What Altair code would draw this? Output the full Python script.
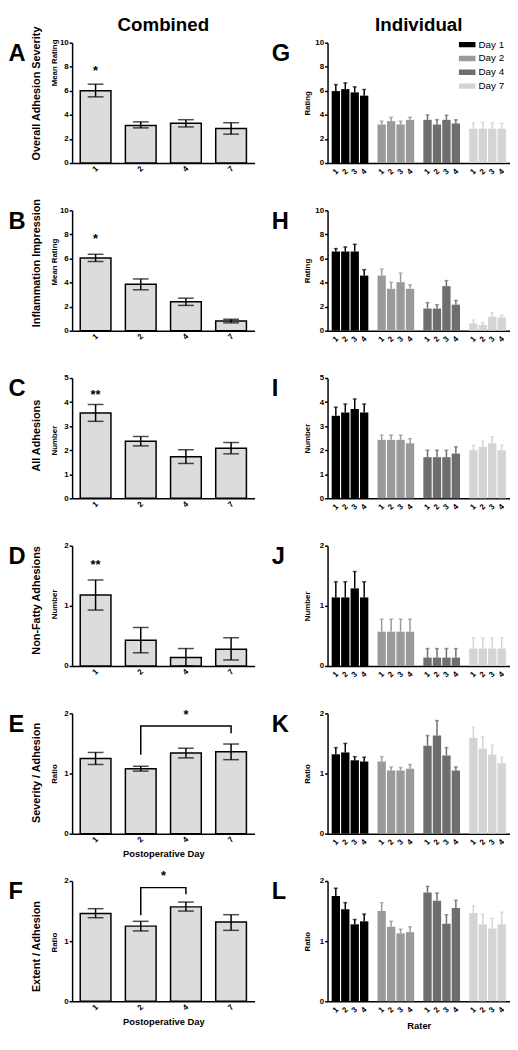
import altair as alt
import pandas as pd

FONT = "Liberation Sans"
W, H = 185, 122

DAYS = ["1", "2", "4", "7"]
RATERS = ["1", "2", "3", "4"]
DAY_COLORS = ["#000000", "#9a9a9a", "#6e6e6e", "#d4d4d4"]

# ---------------- Combined (mean, lower, upper) ----------------
A_mean = [6.0, 3.12, 3.3, 2.87]
A_lo = [5.5, 2.92, 3.0, 2.4]
A_hi = [6.55, 3.42, 3.6, 3.35]

B_mean = [6.05, 3.85, 2.4, 0.8]
B_lo = [5.75, 3.4, 2.1, 0.65]
B_hi = [6.35, 4.3, 2.7, 0.95]

C_mean = [3.55, 2.37, 1.73, 2.08]
C_lo = [3.2, 2.18, 1.45, 1.85]
C_hi = [3.9, 2.57, 2.02, 2.32]

D_mean = [1.18, 0.43, 0.14, 0.28]
D_lo = [0.93, 0.22, 0.0, 0.1]
D_hi = [1.43, 0.64, 0.29, 0.47]

E_mean = [1.25, 1.08, 1.34, 1.36]
E_lo = [1.15, 1.04, 1.26, 1.23]
E_hi = [1.35, 1.12, 1.42, 1.49]

F_mean = [1.46, 1.25, 1.57, 1.32]
F_lo = [1.39, 1.17, 1.5, 1.18]
F_hi = [1.54, 1.33, 1.65, 1.44]

# significance annotations
A_star_day, A_star_y, A_star = ["1"], [7.9], ["*"]
B_star_day, B_star_y, B_star = ["1"], [7.9], ["*"]
C_star_day, C_star_y, C_star = ["1"], [4.43], ["**"]
D_star_day, D_star_y, D_star = ["1"], [1.72], ["**"]
E_star_day, E_star_y, E_star = ["4"], [2.02], ["*"]
F_star_day, F_star_y, F_star = ["2"], [2.13], ["*"]
E_br_day = ["2", "2", "7", "7"]
E_br_y = [1.31, 1.79, 1.79, 1.67]
F_br_day = ["2", "2", "4", "4"]
F_br_y = [1.43, 1.89, 1.89, 1.78]

# ---------------- Individual (rater 1-4 within each day) ----------------
G_mean = [5.98, 6.14, 5.87, 5.6, 3.2, 3.48, 3.2, 3.59, 3.59, 3.2, 3.59, 3.29, 2.85, 2.85, 2.85, 2.85]
G_hi = [6.52, 6.66, 6.33, 6.11, 3.48, 3.8, 3.48, 3.8, 4.0, 3.6, 3.97, 3.59, 3.34, 3.4, 3.34, 3.3]

H_mean = [6.58, 6.58, 6.58, 4.58, 4.58, 3.48, 4.03, 3.48, 1.84, 1.84, 3.7, 2.16, 0.6, 0.47, 1.15, 1.1]
H_hi = [6.82, 6.96, 7.18, 5.07, 5.12, 4.03, 4.79, 3.81, 2.33, 2.16, 4.16, 2.52, 0.88, 0.68, 1.5, 1.29]

I_mean = [3.43, 3.57, 3.71, 3.57, 2.43, 2.43, 2.43, 2.29, 1.71, 1.71, 1.71, 1.86, 2.0, 2.14, 2.29, 2.0]
I_hi = [3.79, 3.92, 4.13, 3.92, 2.63, 2.63, 2.63, 2.48, 2.0, 2.0, 2.0, 2.14, 2.21, 2.38, 2.56, 2.21]

J_mean = [1.14, 1.14, 1.29, 1.14, 0.57, 0.57, 0.57, 0.57, 0.14, 0.14, 0.14, 0.14, 0.29, 0.29, 0.29, 0.29]
J_hi = [1.4, 1.4, 1.57, 1.4, 0.78, 0.78, 0.78, 0.78, 0.29, 0.29, 0.29, 0.29, 0.47, 0.47, 0.47, 0.47]

K_mean = [1.32, 1.35, 1.22, 1.2, 1.2, 1.05, 1.05, 1.08, 1.46, 1.63, 1.3, 1.05, 1.59, 1.41, 1.31, 1.17]
K_hi = [1.43, 1.5, 1.28, 1.27, 1.28, 1.11, 1.1, 1.15, 1.63, 1.88, 1.43, 1.11, 1.77, 1.61, 1.47, 1.27]

L_mean = [1.75, 1.53, 1.28, 1.33, 1.5, 1.24, 1.13, 1.15, 1.81, 1.67, 1.29, 1.55, 1.47, 1.28, 1.21, 1.28]
L_hi = [1.88, 1.64, 1.36, 1.45, 1.64, 1.33, 1.2, 1.24, 1.91, 1.8, 1.44, 1.68, 1.59, 1.45, 1.38, 1.48]

TICKS10 = [0, 2, 4, 6, 8, 10]
TICKS5 = [0, 1, 2, 3, 4, 5]
TICKS2 = [0, 1, 2]


def hidden_axis(title, **kw):
    return alt.Axis(title=title, orient="left", labels=False, ticks=False, domain=False,
                    grid=False, **kw)


def letter_axis(letter, x):
    return hidden_axis(letter, titleX=x, titleY=18, titleAngle=0, titleAlign="left",
                       titleBaseline="alphabetic", titleFontSize=24, titleFontWeight="bold")


def value_axis(unit, ticks, tx, ty):
    return alt.Axis(title=unit, values=ticks, labelExpr="'' + datum.value", orient="left",
                    titleX=tx, titleY=ty, titleAngle=270, titleAlign="center",
                    titleBaseline="alphabetic", titleFontSize=8, titleFontWeight="bold",
                    labelFontSize=8, labelFontWeight="bold", tickSize=3, labelPadding=1,
                    labelOverlap=False, grid=False)


def top_title(text, offset):
    return alt.TitleParams(text, fontSize=19, fontWeight="bold", anchor="middle",
                           frame="group", offset=offset, color="black")


def combined_panel(letter, name, unit, mean, lo, hi, ymax, ticks, name_y, unit_y,
                   star_day, star_y, star_txt, star_dx=0, title=None, xtitle=None,
                   br_day=None, br_y=None):
    df = pd.DataFrame({"day": DAYS, "mean": mean, "lo": lo, "hi": hi})
    ysc = alt.Scale(domain=[0, ymax], nice=False)
    xkw = dict(labelAngle=315, labelAlign="center", labelBaseline="middle", labelPadding=6,
               ticks=False, labelFontSize=8, labelFontWeight="bold")
    if xtitle:
        xkw.update(title=xtitle, titleFontSize=9.5, titleFontWeight="bold", titlePadding=5)
    else:
        xkw.update(title=None)
    x = alt.X("day:N", sort=DAYS, scale=alt.Scale(paddingInner=0.32, paddingOuter=0.18),
              axis=alt.Axis(**xkw))
    name_axis = hidden_axis(name, titleX=-33, titleY=name_y, titleAngle=270, titleAlign="center",
                            titleBaseline="alphabetic", titleFontSize=11, titleFontWeight="bold")
    base = alt.Chart(df)
    bars = base.mark_bar(color="#dcdcdc", stroke="black", strokeWidth=1.5).encode(
        x=x, y=alt.Y("mean:Q", scale=ysc, axis=value_axis(unit, ticks, -16, unit_y)))
    err = base.mark_rule(color="black", strokeWidth=1.5).encode(
        x=x, y=alt.Y("lo:Q", scale=ysc, axis=name_axis), y2="hi:Q")
    cap_hi = base.mark_tick(color="black", thickness=1.5, size=16).encode(
        x=x, y=alt.Y("hi:Q", scale=ysc, axis=letter_axis(letter, -65)))
    cap_lo = base.mark_tick(color="black", thickness=1.5, size=16).encode(
        x=x, y=alt.Y("lo:Q", scale=ysc, axis=None))
    sdf = pd.DataFrame({"day": star_day, "y": star_y, "t": star_txt})
    stars = alt.Chart(sdf).mark_text(fontSize=13, fontWeight="bold", color="black",
                                     baseline="middle", dx=star_dx, dy=3).encode(
        x=x, y=alt.Y("y:Q", scale=ysc, axis=None), text="t:N")
    layers = [bars, err, cap_hi, cap_lo, stars]
    if br_day:
        bdf = pd.DataFrame({"day": br_day, "y": br_y, "o": list(range(len(br_day)))})
        layers.append(alt.Chart(bdf).mark_line(color="black", strokeWidth=1.5).encode(
            x=x, y=alt.Y("y:Q", scale=ysc, axis=None), order="o:Q"))
    props = dict(width=W, height=H)
    if title:
        props["title"] = title
    return alt.layer(*layers).resolve_axis(y="independent").properties(**props)


def individual_panel(letter, unit, mean, hi, ymax, ticks, title=None, legend=False,
                     xtitle=None):
    df = pd.DataFrame({"day": [d for d in DAYS for _ in RATERS], "rater": RATERS * 4,
                       "mean": mean, "hi": hi})
    ysc = alt.Scale(domain=[0, ymax], nice=False)
    xkw = dict(labels=False, ticks=False)
    if xtitle:
        xkw.update(title=xtitle, titleFontSize=9.5, titleFontWeight="bold", titlePadding=20)
    else:
        xkw.update(title=None)
    x = alt.X("day:N", sort=DAYS, scale=alt.Scale(paddingInner=0.2, paddingOuter=0.09),
              axis=alt.Axis(**xkw))
    xo = alt.XOffset("rater:N", sort=RATERS, scale=alt.Scale(paddingInner=0.12, paddingOuter=0))
    if legend:
        leg = alt.Legend(orient="none", legendX=133, legendY=-5, title=None,
                         symbolType="M-1,-0.32H1V0.32H-1Z", symbolSize=289,
                         symbolStrokeWidth=0, symbolOpacity=1, labelFontSize=10,
                         labelExpr="'Day ' + datum.label", clipHeight=14, rowPadding=0,
                         labelOffset=3, padding=0, labelColor="black")
    else:
        leg = None
    csc = alt.Scale(domain=DAYS, range=DAY_COLORS)
    base = alt.Chart(df)
    bars = base.mark_bar().encode(
        x=x, xOffset=xo, y=alt.Y("mean:Q", scale=ysc, axis=value_axis(unit, ticks, -18, 61)),
        color=alt.Color("day:N", sort=DAYS, scale=csc, legend=leg))
    err = base.mark_rule(strokeWidth=1.5).encode(
        x=x, xOffset=xo, y=alt.Y("mean:Q", scale=ysc, axis=letter_axis(letter, -57)),
        y2="hi:Q", color=alt.Color("day:N", sort=DAYS, scale=csc, legend=None))
    cap = base.mark_tick(thickness=1.5, size=4).encode(
        x=x, xOffset=xo, y=alt.Y("hi:Q", scale=ysc, axis=None),
        color=alt.Color("day:N", sort=DAYS, scale=csc, legend=None))
    labels = base.mark_text(angle=315, fontSize=8, fontWeight="bold", align="center",
                            baseline="middle", dx=-6.4, dy=6.4, color="black").encode(
        x=x, xOffset=xo, y=alt.YDatum(0, scale=ysc, axis=None), text="rater:N")
    props = dict(width=W, height=H)
    if title:
        props["title"] = title
    return alt.layer(bars, err, cap, labels).resolve_axis(y="independent").properties(**props)


pA = combined_panel("A", "Overall Adhesion Severity", "Mean Rating", A_mean, A_lo, A_hi, 10,
                    TICKS10, 51, 20, A_star_day, A_star_y, A_star,
                    title=top_title("Combined", -9))
pB = combined_panel("B", "Inflammation Impression", "Mean Rating", B_mean, B_lo, B_hi, 10,
                    TICKS10, 53, 52, B_star_day, B_star_y, B_star)
pC = combined_panel("C", "All Adhesions", "Number", C_mean, C_lo, C_hi, 5, TICKS5, 58, 63,
                    C_star_day, C_star_y, C_star)
pD = combined_panel("D", "Non-Fatty Adhesions", "Number", D_mean, D_lo, D_hi, 2, TICKS2, 55, 59,
                    D_star_day, D_star_y, D_star)
pE = combined_panel("E", "Severity / Adhesion", "Ratio", E_mean, E_lo, E_hi, 2, TICKS2, 60, 61,
                    E_star_day, E_star_y, E_star, xtitle="Postoperative Day",
                    br_day=E_br_day, br_y=E_br_y)
pF = combined_panel("F", "Extent / Adhesion", "Ratio", F_mean, F_lo, F_hi, 2, TICKS2, 66, 62,
                    F_star_day, F_star_y, F_star, star_dx=23, xtitle="Postoperative Day",
                    br_day=F_br_day, br_y=F_br_y)

pG = individual_panel("G", "Rating", G_mean, G_hi, 10, TICKS10,
                      title=top_title("Individual", 3), legend=True)
pH = individual_panel("H", "Rating", H_mean, H_hi, 10, TICKS10)
pI = individual_panel("I", "Number", I_mean, I_hi, 5, TICKS5)
pJ = individual_panel("J", "Number", J_mean, J_hi, 2, TICKS2)
pK = individual_panel("K", "Ratio", K_mean, K_hi, 2, TICKS2)
pL = individual_panel("L", "Ratio", L_mean, L_hi, 2, TICKS2, xtitle="Rater")

chart = alt.concat(
    pA, pG, pB, pH, pC, pI, pD, pJ, pE, pK, pF, pL,
    columns=2, spacing={"row": 48, "column": 74}, bounds="flush", align="all",
).resolve_scale(color="independent", xOffset="independent").properties(
    padding={"left": 0, "top": 0, "right": 0, "bottom": 0}
).configure(font=FONT).configure_view(stroke=None).configure_axis(
    domainColor="black", domainWidth=1.5, tickColor="black", tickWidth=1.5,
    labelColor="black", titleColor="black", grid=False
).configure_title(color="black")

chart.save("out.html", embed_options={"renderer": "svg", "actions": False})
